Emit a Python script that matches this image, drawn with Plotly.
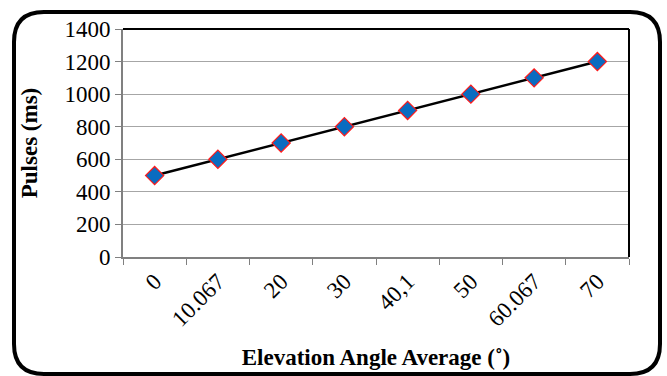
import plotly.graph_objects as go

# Elevation angle averages (category labels) and measured pulse widths
angles = ["0", "10.067", "20", "30", "40,1", "50", "60.067", "70"]
pulses = [500, 600, 700, 800, 900, 1000, 1100, 1200]
y_ticks = [0, 200, 400, 600, 800, 1000, 1200, 1400]

W, H = 667, 376
ML, MR, MT, MB = 123, 38, 29, 119
PW, PH = W - ML - MR, H - MT - MB


def px_x(px):
    return (px - ML) / PW


def px_y(py):
    return 1 - (py - MT) / PH


fig = go.Figure()
fig.add_trace(go.Scatter(
    x=angles, y=pulses, mode="lines+markers",
    line=dict(color="black", width=2.5),
    marker=dict(symbol="diamond", size=14, color="#0a6cc0",
                line=dict(color="#ff1a1a", width=1.2)),
    showlegend=False,
))

serif = "Times New Roman, Liberation Serif, serif"

fig.update_layout(
    width=W, height=H,
    margin=dict(l=ML, r=MR, t=MT, b=MB),
    paper_bgcolor="white", plot_bgcolor="white",
    font=dict(family=serif, color="black", size=23),
    xaxis=dict(
        type="category", tickson="boundaries", ticks="outside", ticklen=6,
        tickcolor="#808080", tickwidth=1, tickangle=-45, automargin=False,
        showline=True, linecolor="#808080", linewidth=2, showgrid=False,
        tickfont=dict(size=23, family=serif, color="black"),
        title=dict(text="<b>Elevation Angle Average (˚)</b>",
                   font=dict(size=23, family=serif, color="black"), standoff=18),
        range=[-0.5, len(angles) - 0.5], zeroline=False,
    ),
    yaxis=dict(
        range=[0, 1400], tickvals=y_ticks, ticks="outside", ticklen=6,
        tickcolor="#808080", tickwidth=1, automargin=False,
        showline=True, linecolor="#808080", linewidth=2,
        showgrid=True, gridcolor="#a6a6a6", gridwidth=1.3, zeroline=False,
        tickfont=dict(size=23, family=serif, color="black"),
        title=dict(text="<b>Pulses (ms)</b>",
                   font=dict(size=23, family=serif, color="black"),
                   standoff=20),
    ),
)

# Dark frame on the top and right sides of the plot area
fig.add_shape(type="line", xref="paper", yref="paper", x0=0, x1=1, y0=1, y1=1,
              line=dict(color="black", width=2))
fig.add_shape(type="line", xref="paper", yref="paper", x0=1, x1=1, y0=0, y1=1,
              line=dict(color="black", width=2))

# Rounded outer chart border
x0, x1, y0, y1, r = 14, 660, 12, 374, 30
X0, X1 = px_x(x0), px_x(x1)
Y0, Y1 = px_y(y1), px_y(y0)
rx, ry = r / PW, r / PH
path = (f"M {X0 + rx} {Y1} L {X1 - rx} {Y1} "
        f"Q {X1} {Y1} {X1} {Y1 - ry} L {X1} {Y0 + ry} "
        f"Q {X1} {Y0} {X1 - rx} {Y0} L {X0 + rx} {Y0} "
        f"Q {X0} {Y0} {X0} {Y0 + ry} L {X0} {Y1 - ry} "
        f"Q {X0} {Y1} {X0 + rx} {Y1} Z")
fig.add_shape(type="path", xref="paper", yref="paper", path=path,
              line=dict(color="black", width=4), layer="above")

fig.write_html("out.html")
